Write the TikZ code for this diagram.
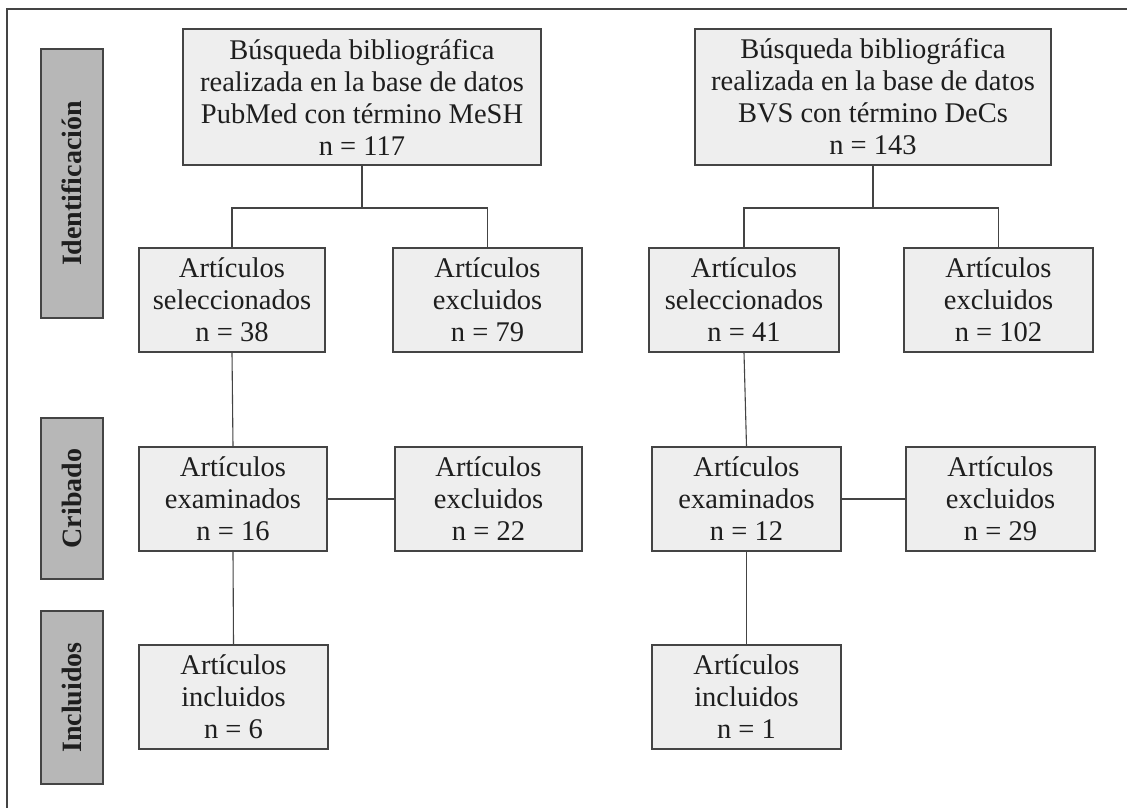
\documentclass[tikz,border=0pt]{standalone}
\usepackage{fontspec}
\setmainfont{Liberation Serif}
\definecolor{linec}{HTML}{444444}
\definecolor{boxc}{HTML}{EEEEEE}
\definecolor{sidec}{HTML}{B7B7B7}
\definecolor{textc}{HTML}{1E1E1E}
\tikzset{
  box/.style={draw=linec, fill=boxc, line width=1.2pt, align=center, inner sep=0pt,
    font=\fontsize{28.5}{32}\selectfont, text=textc},
  side/.style={draw=linec, fill=sidec, line width=1.2pt, inner sep=0pt, rotate=90,
    font=\bfseries\fontsize{28}{30}\selectfont, text=textc},
  conn/.style={draw=linec, line width=1.1pt},
}
\begin{document}
\begin{tikzpicture}[x=1pt,y=-1pt]
\useasboundingbox (0,0) rectangle (1127,808);
\fill[white] (0,0) rectangle (1127,808);
\coordinate (fa) at (7,808);
\coordinate (fb) at (7,9);
\coordinate (fc) at (1127,9);
\draw[draw=linec, line width=1.4pt] (fa) -- (fb) -- (fc);

% side labels
\node[side, minimum width=269pt, minimum height=62pt] (id) at (72,183.5) {Identificación};
\node[side, minimum width=161pt, minimum height=62pt] (cr) at (72,498.5) {Cribado};
\node[side, minimum width=173pt, minimum height=62pt] (in) at (72,697.5) {Incluidos};

% top boxes
\node[box, minimum width=358pt, minimum height=136pt] (t1) at (362,97)
  {Búsqueda bibliográfica\\realizada en la base de datos\\PubMed con término MeSH\\n = 117};
\node[box, minimum width=356pt, minimum height=136pt] (t2) at (873,97)
  {Búsqueda bibliográfica\\realizada en la base de datos\\BVS con término DeCs\\n = 143};

% row 2
\node[box, minimum width=186pt, minimum height=104pt] (s1) at (232,300) {Artículos\\seleccionados\\n = 38};
\node[box, minimum width=189pt, minimum height=104pt] (e1) at (487.5,300) {Artículos\\excluidos\\n = 79};
\node[box, minimum width=190pt, minimum height=104pt] (s2) at (744,300) {Artículos\\seleccionados\\n = 41};
\node[box, minimum width=189pt, minimum height=104pt] (e2) at (998.5,300) {Artículos\\excluidos\\n = 102};

% row 3
\node[box, minimum width=188pt, minimum height=104pt] (x1) at (233,499) {Artículos\\examinados\\n = 16};
\node[box, minimum width=187pt, minimum height=104pt] (f1) at (488.5,499) {Artículos\\excluidos\\n = 22};
\node[box, minimum width=189pt, minimum height=104pt] (x2) at (746.5,499) {Artículos\\examinados\\n = 12};
\node[box, minimum width=189pt, minimum height=104pt] (f2) at (1000.5,499) {Artículos\\excluidos\\n = 29};

% row 4
\node[box, minimum width=189pt, minimum height=104pt] (i1) at (233.5,697) {Artículos\\incluidos\\n = 6};
\node[box, minimum width=189pt, minimum height=104pt] (i2) at (746.5,697) {Artículos\\incluidos\\n = 1};

% connectors
\coordinate (b1) at (362,208);
\coordinate (b2) at (873,208);
\draw[conn] (t1.south) -- (b1);
\draw[conn] (s1.north) |- (b1) -| (e1.north);
\draw[conn] (t2.south) -- (b2);
\draw[conn] (s2.north) |- (b2) -| (e2.north);
\draw[conn] (s1.south) -- (x1.north);
\draw[conn] (s2.south) -- (x2.north);
\draw[conn] (x1.east) -- (f1.west);
\draw[conn] (x2.east) -- (f2.west);
\draw[conn] (x1.south) -- (i1.north);
\draw[conn] (x2.south) -- (i2.north);
\end{tikzpicture}
\end{document}
